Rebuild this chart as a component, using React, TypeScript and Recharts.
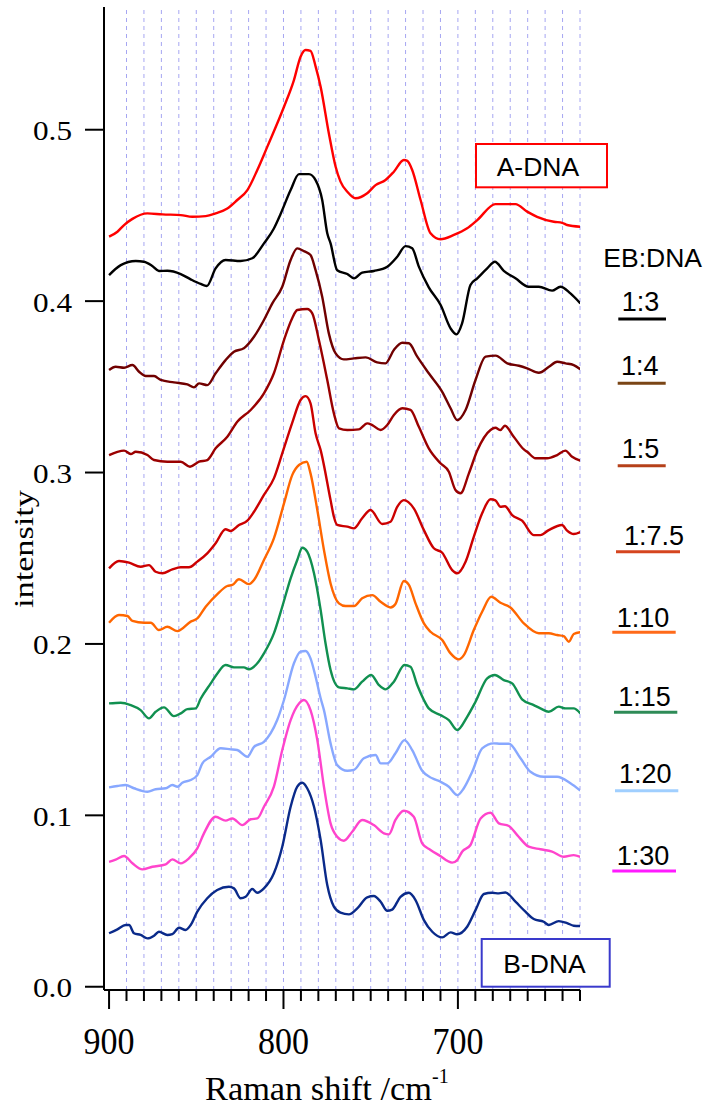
import React from 'react';
import { LineChart, Line, XAxis, YAxis, ReferenceLine } from 'recharts';

// Raman spectra: [wavenumber (cm^-1), intensity]
const aDna = [[900,.4376],[895.2,.4405],[891.4,.4444],[886.6,.448],[878,.4512],[869.4,.4506],[858.9,.4502],[852.3,.4492],[844.6,.4496],[838.9,.4512],[832.2,.454],[826.5,.459],[820.7,.4648],[815,.4765],[809.3,.49],[799.7,.5134],[794,.529],[790.2,.5426],[787.3,.5465],[784.5,.546],[781.6,.537],[778.7,.525],[774,.498],[770.1,.4784],[767.3,.4697],[763.4,.4638],[758.7,.46],[752,.4629],[747.2,.4677],[741.5,.4707],[736.7,.4755],[731,.4823],[729,.4818],[726.2,.4765],[721.4,.459],[715.7,.4396],[710,.4361],[702.3,.4386],[694.7,.4425],[688.9,.4473],[678.5,.4566],[667,.4566],[660.3,.4522],[654.6,.4492],[645,.4463],[640.2,.4457],[637.4,.4444],[629.8,.4434]];
const r1to3 = [[900,.4152],[893.3,.421],[884.7,.4234],[880,.423],[875.2,.4205],[871.4,.4176],[866.6,.4177],[858.9,.4158],[853.2,.4127],[847.5,.41],[844,.4088],[838.9,.4191],[833.2,.424],[824.6,.4234],[817.9,.425],[811.2,.4337],[805.5,.4424],[801.6,.451],[795.9,.4648],[791.1,.4741],[785.4,.4741],[781.6,.4706],[777.8,.459],[774.9,.4396],[773,.4337],[769.2,.418],[763.4,.4158],[759.6,.4133],[754.9,.4166],[748.2,.4176],[740.5,.4201],[734.8,.4259],[730,.4321],[726.2,.4308],[722.4,.4201],[716.7,.408],[709.9,.3977],[704.2,.3841],[700.8,.3806],[697.6,.387],[692.8,.4094],[688.9,.4133],[683.2,.4191],[678.8,.423],[673.7,.4177],[667,.4133],[659.4,.4084],[653.6,.4084],[646,.4061],[641.2,.4084],[635.5,.4045],[629.8,.3987]];
const r1to4 = [[900,.3598],[896.2,.3617],[891.4,.3611],[886.6,.3627],[882.8,.3588],[879,.3563],[874.2,.3563],[870.4,.354],[862.8,.3526],[855.1,.3514],[851.3,.3497],[848.4,.352],[843.7,.351],[838.9,.3579],[833.2,.3656],[828.4,.3705],[822.7,.3725],[816.9,.3792],[811.2,.389],[806.4,.3987],[800.7,.4084],[795.9,.424],[792.1,.4308],[788,.429],[784.5,.4269],[781.6,.4181],[777.8,.4026],[774,.3812],[770.1,.3695],[765.4,.366],[759.6,.3666],[752.9,.3672],[746.3,.3643],[741.5,.3637],[736.7,.3715],[731.9,.3757],[728.1,.3754],[723.3,.3676],[716.7,.3579],[709,.3471],[704.2,.3375],[700.4,.3306],[695.6,.3365],[689.9,.354],[684.1,.3676],[678.4,.3682],[671.7,.3637],[665,.3623],[660.3,.3608],[653.6,.3582],[647.8,.3617],[643.1,.3646],[638.3,.3637],[633.6,.3627],[629.8,.3602]];
const r1to5 = [[900,.3102],[895.2,.3121],[891.4,.3128],[887.6,.3108],[884.7,.3121],[878,.3102],[874.2,.3073],[866.6,.3063],[858.9,.3063],[853.6,.3034],[848.4,.3063],[843.7,.3073],[838.9,.3141],[832.2,.3209],[826.5,.3296],[818.8,.3365],[811.2,.3462],[805.5,.3579],[799.7,.3773],[795,.39],[792.1,.3948],[786.4,.3954],[783.5,.3929],[779.7,.3773],[774.9,.354],[771.1,.3345],[768.2,.3258],[763.4,.3248],[756.8,.3252],[752,.3287],[749.1,.3277],[744.3,.3248],[740.5,.3277],[736.7,.3336],[731.9,.3375],[727.2,.3365],[722.4,.3267],[716.7,.3141],[710,.3054],[705.2,.3005],[701.4,.2898],[698.5,.2879],[693.7,.2995],[688.9,.3128],[681.3,.3248],[678.5,.3261],[675.6,.3248],[673.1,.3273],[668,.3209],[662.2,.3135],[660.3,.3121],[655.5,.3083],[648.9,.3083],[643.1,.3102],[638.4,.3128],[634.5,.3092],[629.8,.3069]];
const r1to7_5 = [[900,.2441],[894.3,.2484],[888.5,.2474],[881.9,.245],[877.1,.246],[873.3,.2421],[869.4,.2412],[863.7,.2435],[858.9,.2447],[854.2,.2447],[849.4,.248],[843.7,.2528],[838.9,.2587],[833.2,.2669],[830.3,.2659],[825.5,.2694],[820.7,.2719],[816.9,.2771],[811.2,.2869],[805.5,.2966],[800.7,.3112],[795,.329],[790.2,.3423],[787.3,.3446],[784.5,.3404],[781.6,.3229],[778.7,.3131],[773,.2839],[771.1,.2742],[769.2,.2694],[763.4,.2684],[759.6,.2674],[754.9,.2733],[750.1,.2781],[743.4,.27],[738.6,.2713],[734.8,.28],[731,.2839],[725.3,.2791],[719.5,.2664],[713.8,.2558],[709,.2532],[703.3,.2431],[700.4,.2412],[695.6,.248],[690.9,.2625],[686.1,.2762],[681.3,.2844],[678.5,.2838],[675.6,.28],[673,.2803],[668.9,.2752],[663.2,.2719],[656.5,.2635],[652.7,.2635],[647.9,.2664],[640.3,.2694],[637.4,.2661],[633.6,.2641],[629.8,.2653]];
const r1to10 = [[900,.2124],[894.3,.2169],[889.5,.2163],[886.6,.2135],[879.9,.2124],[876.1,.2124],[871.4,.2081],[866.6,.21],[860.8,.2075],[853.2,.213],[849.4,.2149],[844.6,.2217],[837.9,.2291],[832.2,.2338],[829.3,.2344],[825.5,.2377],[819.8,.2349],[816.9,.2373],[811.2,.249],[805.5,.2616],[799.7,.282],[795,.2985],[791.1,.3044],[786.7,.3063],[784.5,.2995],[780.6,.2781],[776.8,.2548],[773,.2353],[768.2,.2237],[764.4,.2221],[759.6,.2221],[754.9,.2266],[749.1,.2285],[744.3,.2246],[738.6,.2213],[735.8,.2233],[731,.2367],[728.1,.2344],[724.3,.2237],[719.5,.212],[715.7,.2071],[709,.2023],[704.2,.1945],[699.5,.191],[696.6,.1935],[690.9,.2081],[686.1,.2188],[680.9,.2275],[675.6,.224],[669.9,.2213],[662.2,.212],[653.6,.2062],[647.9,.2062],[643.1,.2052],[639.3,.2045],[636.4,.2013],[633.6,.2058],[629.8,.2068]];
const r1to15 = [[900,.1653],[893.3,.1657],[887.6,.1643],[881.9,.1614],[877.1,.1566],[873.3,.1604],[868.5,.163],[862.8,.1579],[858.9,.1595],[855.1,.162],[850.3,.1624],[847.5,.168],[841.7,.177],[837.9,.1828],[833.2,.1877],[828.4,.1863],[822.7,.1863],[819.8,.1852],[815,.1887],[811.2,.1945],[805.5,.2062],[800.7,.2217],[795.9,.2383],[792.1,.249],[789.2,.2561],[786.4,.2538],[782.5,.2412],[778.7,.2198],[775.9,.2004],[773,.1848],[768.2,.1747],[763.4,.1741],[759.6,.1735],[754.9,.178],[749.7,.1819],[745.3,.176],[741.5,.1735],[736.7,.178],[730.6,.1877],[727.2,.1867],[723.3,.176],[719.5,.1673],[716.7,.1624],[710,.1585],[705.2,.1556],[700.4,.1498],[694.7,.1575],[689.9,.1663],[683.2,.1799],[678.8,.1819],[673.7,.1789],[668.9,.177],[663.2,.1677],[656.5,.1643],[652.7,.1624],[647.9,.1604],[642.2,.1634],[638.3,.1624],[633.6,.1624],[629.8,.1595]];
const r1to20 = [[900,.1163],[895.2,.1171],[890.5,.1177],[885.7,.1158],[878,.1138],[873.3,.1152],[867.5,.1158],[863.7,.1177],[860.8,.1167],[858,.119],[853.2,.1206],[849.4,.1235],[846.5,.1303],[841.7,.1342],[836,.1391],[830.3,.1385],[826.5,.1381],[820.7,.1342],[816.9,.14],[811.2,.1429],[807.4,.1478],[803.6,.1556],[799.7,.1673],[794,.1887],[790.2,.1955],[787.3,.1959],[784.5,.1916],[781.6,.1809],[778.7,.1683],[776.8,.1614],[773,.142],[769.2,.1293],[763.4,.126],[759.6,.1265],[753.9,.1333],[747.2,.1352],[744.3,.1303],[740.5,.1303],[735.8,.1362],[730.6,.1439],[726.2,.1381],[720.5,.126],[714.7,.1216],[710,.1196],[705.2,.1167],[700.4,.1118],[696.6,.1158],[691.8,.1254],[686.1,.1391],[679.4,.142],[675.6,.1418],[670.8,.1418],[664.1,.1333],[658.4,.1254],[650.8,.1225],[643.1,.1225],[635.5,.1187],[629.8,.1144]];
const r1to30 = [[900,.0729],[896.2,.0741],[891.4,.0763],[886.6,.072],[880.9,.0685],[875.2,.07],[867.5,.0714],[863.7,.0743],[858.9,.072],[854.2,.0749],[849.4,.0807],[845.6,.0895],[838.9,.0992],[833.2,.0969],[829.3,.0982],[823.6,.0943],[818.8,.0977],[815,.0982],[811.2,.105],[805.5,.1167],[800.7,.1381],[795.9,.1556],[791.1,.1653],[788.3,.1673],[784.5,.1614],[780.6,.1439],[776.8,.1167],[773,.0953],[769.2,.0875],[765.4,.0852],[760.6,.0904],[754.9,.0973],[748.2,.0943],[742.4,.0895],[739.6,.0889],[735.8,.0973],[731,.1027],[725.3,.0992],[720.5,.0837],[715.7,.0798],[710.9,.0768],[703.3,.0724],[700.4,.0739],[697.6,.0788],[692.8,.0827],[687,.0982],[681.3,.1015],[676.5,.0953],[670.8,.0938],[666,.0885],[659.4,.0817],[652.7,.0802],[646,.0788],[639.3,.0758],[633.6,.0768],[629.8,.0758]];
const bDna = [[900,.0312],[895.2,.0335],[890.5,.036],[888.5,.036],[885.7,.0312],[881.9,.0302],[878,.0282],[874.2,.0298],[871.4,.0321],[866.6,.0302],[863.7,.0307],[859.9,.0344],[856.1,.0331],[853.2,.036],[849.4,.0438],[843.7,.0516],[838,.0564],[831.3,.0583],[828.4,.0574],[824.6,.0516],[821.7,.0525],[817.9,.057],[815,.0548],[811.2,.0574],[805.5,.0662],[800.7,.0817],[795.9,.105],[792.1,.1167],[789.2,.119],[786.4,.1158],[782.5,.105],[778.7,.0856],[774.9,.0593],[771.1,.0467],[767.3,.0432],[762.5,.0422],[757.7,.0457],[752,.0522],[748.2,.0529],[744.3,.0496],[740.5,.0443],[737.7,.045],[732.9,.0525],[728.1,.0548],[724.3,.0506],[719.5,.0389],[714.7,.0321],[709,.0288],[704.2,.0317],[700.4,.0306],[694.7,.035],[689.9,.0447],[685.1,.0541],[680.4,.0548],[676.5,.0545],[672.7,.055],[667,.0496],[661.3,.0438],[656.5,.0395],[650.8,.0379],[647.9,.036],[642.2,.0383],[637.4,.0371],[633.6,.0356],[629.8,.0354]];

const xTicks = [900, 890, 880, 870, 860, 850, 840, 830, 820, 810, 800, 790, 780, 770, 760, 750, 740, 730, 720, 710, 700, 690, 680, 670, 660, 650, 640, 630];
const xLabelTicks = [900, 800, 700];
const gridXs = [890, 880, 870, 860, 850, 840, 830, 820, 810, 800, 790, 780, 770, 760, 750, 740, 730, 720, 710, 700, 690, 680, 670, 660, 650, 640, 630];
const yTicks = [0, 0.1, 0.2, 0.3, 0.4, 0.5];
const yTickLabels = ['0.0', '0.1', '0.2', '0.3', '0.4', '0.5'];

const seriesNames = ['A-DNA', '1:3', '1:4', '1:5', '1:7.5', '1:10', '1:15', '1:20', '1:30', 'B-DNA'];
const seriesColors = ['#ff0000', '#000000', '#700000', '#9a0000', '#cc0000', '#ff6600', '#119050', '#88a8ff', '#ff44cc', '#0a2a8a'];
const seriesData = [aDna, r1to3, r1to4, r1to5, r1to7_5, r1to10, r1to15, r1to20, r1to30, bDna];

const legendTitle = 'EB:DNA';
const legendLabels = ['1:3', '1:4', '1:5', '1:7.5', '1:10', '1:15', '1:20', '1:30'];
const legendColors = ['#000000', '#7a4515', '#b5401a', '#d5451f', '#ff6a1a', '#2e8b57', '#a0cfff', '#ff1aff'];
// layout of the legend entries (pixels)
const legendText = [[621.7, 311], [621, 375], [621.7, 458.3], [624, 545], [616.7, 627.3], [618.3, 705.7], [619, 783.3], [616.7, 865]];
const legendLine = [[618.3, 666, 319], [617.7, 665.7, 383.3], [617.7, 665.7, 465.7], [616, 680, 551.7], [612.3, 675.7, 632.3], [614, 677.3, 712.3], [615, 678.3, 790.7], [612.3, 676, 871]];

const SERIF = "'Liberation Serif', 'Times New Roman', Times, serif";
const SANS = "'Liberation Sans', Arial, Helvetica, sans-serif";

const XTick = (props: any) => {
  const { x, y, payload } = props;
  const v = payload.value;
  const major = xLabelTicks.includes(v);
  return (
    <g>
      <line x1={x} y1={y} x2={x} y2={y + (major ? 19 : 11)} stroke="#000" strokeWidth={2} />
      {major && (
        <text x={x} y={y + 63.5} textAnchor="middle" fontFamily={SERIF} fontSize={37} textLength={51} lengthAdjust="spacingAndGlyphs" fill="#000">
          {String(v)}
        </text>
      )}
    </g>
  );
};

const YTick = (props: any) => {
  const { x, y, payload, index } = props;
  return (
    <g>
      <line x1={x} y1={y} x2={x - 19} y2={y} stroke="#000" strokeWidth={2} />
      <text x={x - 32} y={y + 10.5} textAnchor="end" fontFamily={SERIF} fontSize={28} textLength={39} lengthAdjust="spacingAndGlyphs" fill="#000">
        {yTickLabels[yTicks.indexOf(payload.value)] ?? yTickLabels[index]}
      </text>
    </g>
  );
};

export default function App() {
  return (
    <div style={{ position: 'relative', width: 709, height: 1107, background: '#fff' }}>
      <style>{'body{margin:0;background:#fff;}'}</style>
      <LineChart width={709} height={1107} margin={{ top: 7, right: 129, bottom: 0, left: 0 }}>
        <XAxis
          type="number"
          dataKey="x"
          domain={[630, 902.9]}
          reversed
          allowDataOverflow
          ticks={xTicks}
          interval={0}
          height={117}
          tickSize={0}
          tickMargin={0}
          tickLine={false}
          tick={<XTick />}
          axisLine={{ stroke: '#000', strokeWidth: 2 }}
        />
        <YAxis
          type="number"
          domain={[-0.0019, 0.5716]}
          allowDataOverflow
          ticks={yTicks}
          interval={0}
          width={104}
          tickSize={0}
          tickMargin={0}
          tickLine={false}
          tick={<YTick />}
          axisLine={{ stroke: '#000', strokeWidth: 2 }}
        />
        {gridXs.map((gx) => (
          <ReferenceLine key={gx} x={gx} stroke="#a6a6f2" strokeWidth={1} strokeDasharray="4 4" />
        ))}
        {seriesData.map((d, i) => (
          <Line
            key={seriesNames[i]}
            name={seriesNames[i]}
            data={d.map(([x, y]) => ({ x, y }))}
            dataKey="y"
            type="monotone"
            stroke={seriesColors[i]}
            strokeWidth={2.4}
            dot={false}
            activeDot={false}
            isAnimationActive={false}
          />
        ))}
      </LineChart>
      <svg width={709} height={1107} style={{ position: 'absolute', left: 0, top: 0, pointerEvents: 'none' }}>
        <text x={205} y={1100} fontFamily={SERIF} fontSize={33} textLength={227} lengthAdjust="spacingAndGlyphs" fill="#000">Raman shift /cm</text>
        <text x={432} y={1083} fontFamily={SERIF} fontSize={20} fill="#000">-1</text>
        <text x={33} y={549} transform="rotate(-90 33 549)" textAnchor="middle" fontFamily={SERIF} fontSize={27} textLength={118} lengthAdjust="spacingAndGlyphs" fill="#000">intensity</text>

        <rect x={476} y={144} width={131} height={43.3} fill="#fff" stroke="#ff0000" strokeWidth={2} />
        <text x={496.7} y={175.7} fontFamily={SANS} fontSize={26.5} fill="#000">A-DNA</text>
        <rect x={481.7} y={939} width={128} height={47.7} fill="#fff" stroke="#3a3acc" strokeWidth={2} />
        <text x={503.3} y={973.3} fontFamily={SANS} fontSize={26.5} fill="#000">B-DNA</text>

        <text x={603.3} y={267.3} fontFamily={SANS} fontSize={26.5} fill="#000">{legendTitle}</text>
        {legendLabels.map((lab, i) => (
          <g key={lab}>
            <text x={legendText[i][0]} y={legendText[i][1]} fontFamily={SANS} fontSize={27} fill="#000">{lab}</text>
            <line x1={legendLine[i][0]} x2={legendLine[i][1]} y1={legendLine[i][2]} y2={legendLine[i][2]} stroke={legendColors[i]} strokeWidth={3} />
          </g>
        ))}
      </svg>
    </div>
  );
}
